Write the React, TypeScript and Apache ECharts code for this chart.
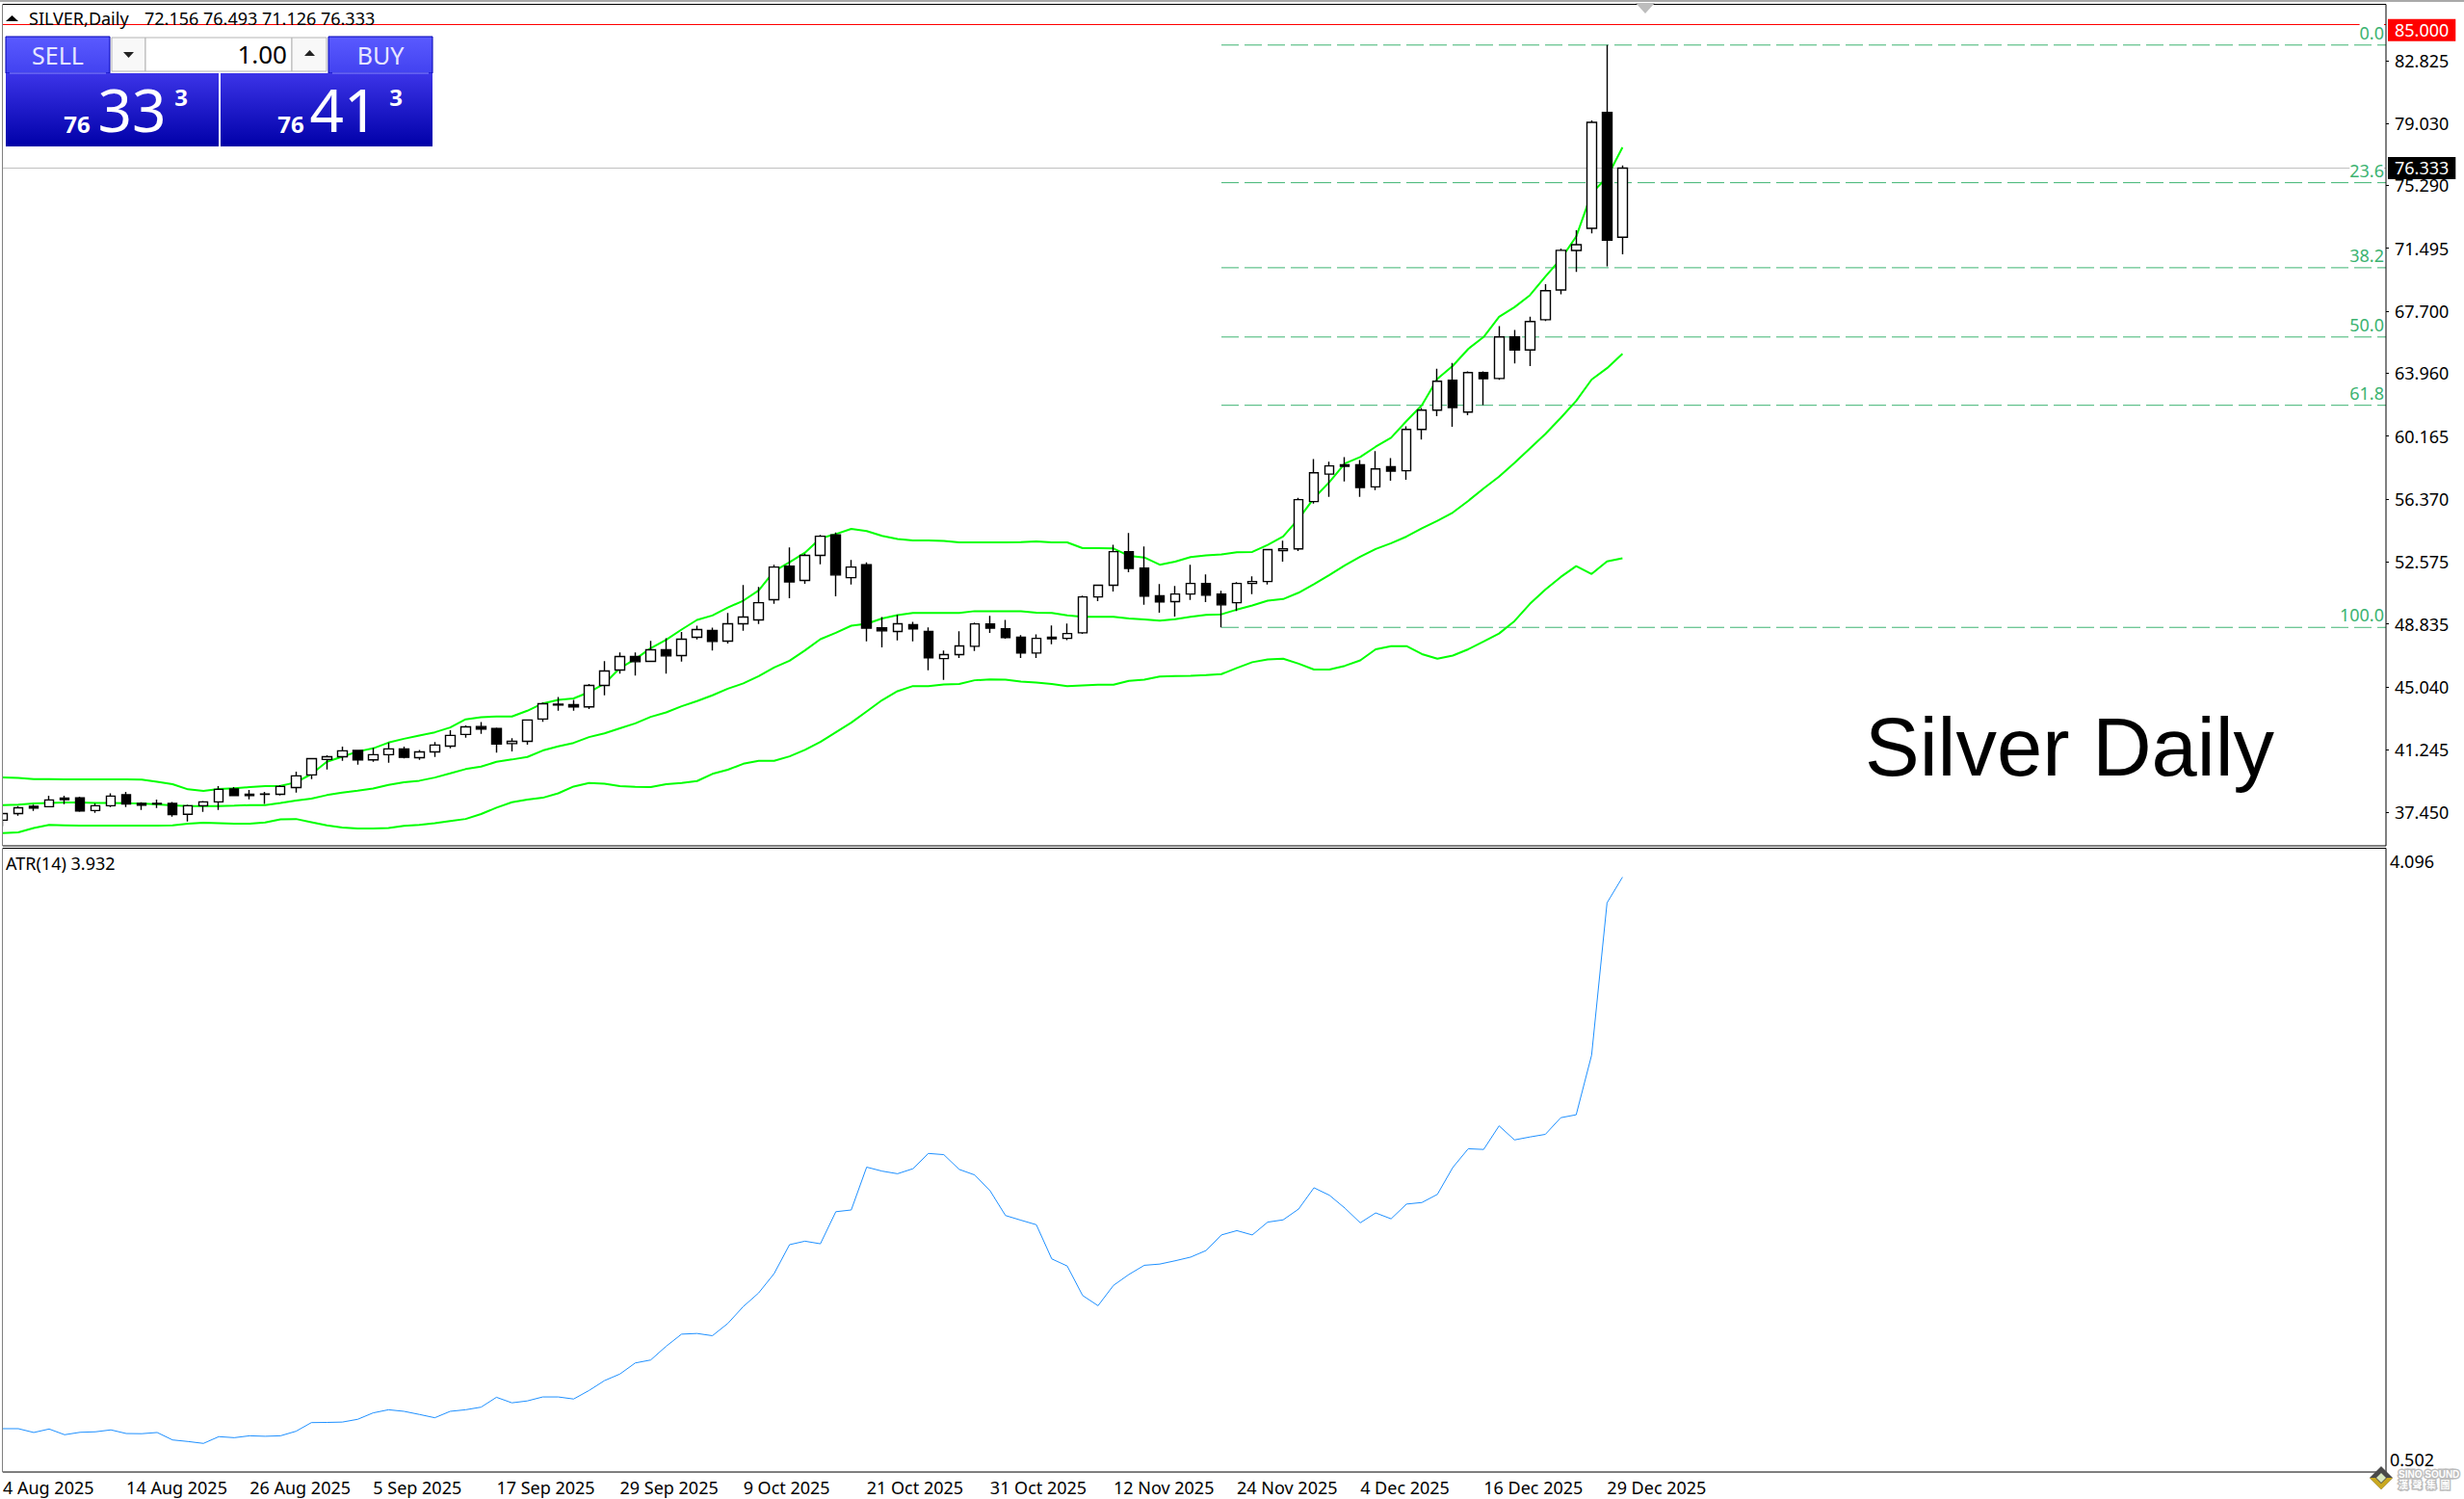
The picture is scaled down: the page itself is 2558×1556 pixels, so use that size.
import React, { useEffect, useRef } from 'react';
import * as echarts from 'echarts';

const tickLabels = ['4 Aug 2025', '14 Aug 2025', '26 Aug 2025', '5 Sep 2025', '17 Sep 2025', '29 Sep 2025', '9 Oct 2025', '21 Oct 2025', '31 Oct 2025', '12 Nov 2025', '24 Nov 2025', '4 Dec 2025', '16 Dec 2025', '29 Dec 2025'];

const opens = [36.99, 37.39, 37.82, 37.80, 38.32, 38.34, 37.57, 37.86, 38.52, 38.00, 37.96, 38.00, 37.34, 37.86, 38.09, 38.87, 38.55, 38.54, 38.55, 38.96, 39.72, 40.65, 40.82, 41.19, 40.63, 40.94, 41.29, 40.76, 41.11, 41.46, 42.16, 42.64, 42.52, 41.61, 41.75, 43.09, 43.94, 43.96, 43.82, 45.12, 46.05, 46.86, 46.57, 47.27, 46.92, 48.02, 48.43, 47.79, 48.84, 49.07, 50.29, 52.32, 51.45, 52.96, 54.20, 51.62, 52.40, 48.60, 48.37, 48.78, 48.37, 46.74, 46.98, 47.48, 48.83, 48.54, 48.02, 47.07, 48.02, 47.96, 48.29, 50.46, 51.16, 53.19, 52.20, 50.52, 50.17, 50.63, 51.27, 50.63, 50.11, 51.27, 51.39, 53.25, 53.36, 56.21, 57.87, 58.43, 58.43, 57.10, 58.32, 58.07, 60.56, 61.73, 63.53, 61.61, 63.99, 63.64, 66.14, 65.36, 67.18, 68.98, 71.36, 72.70, 79.69, 72.156];
const closes = [37.39, 37.74, 37.72, 38.21, 38.23, 37.55, 37.86, 38.44, 37.96, 37.90, 38.00, 37.32, 37.86, 38.09, 38.85, 38.48, 38.48, 38.57, 39.02, 39.66, 40.70, 40.82, 41.17, 40.63, 40.94, 41.29, 40.78, 41.11, 41.52, 42.10, 42.62, 42.48, 41.59, 41.75, 43.03, 44.01, 43.98, 43.82, 45.12, 45.99, 46.86, 46.55, 47.27, 46.90, 47.91, 48.49, 47.77, 48.84, 49.24, 50.11, 52.26, 51.37, 52.96, 54.12, 51.78, 52.26, 48.58, 48.41, 48.84, 48.53, 46.78, 46.98, 47.50, 48.83, 48.58, 48.00, 47.07, 47.96, 47.94, 48.25, 50.46, 51.16, 53.19, 52.18, 50.50, 50.15, 50.63, 51.27, 50.56, 49.98, 51.27, 51.39, 53.31, 53.36, 56.33, 57.95, 58.36, 58.34, 57.06, 58.18, 58.05, 60.56, 61.73, 63.47, 61.88, 63.99, 63.62, 66.14, 65.36, 67.07, 68.93, 71.37, 71.71, 79.09, 71.98, 76.333];
const lows = [36.62, 37.26, 37.55, 37.80, 37.96, 37.49, 37.43, 37.78, 37.78, 37.61, 37.72, 37.20, 36.91, 37.49, 37.61, 38.48, 38.25, 37.97, 38.48, 38.65, 39.47, 40.05, 40.57, 40.34, 40.51, 40.45, 40.72, 40.63, 40.80, 41.32, 41.96, 42.20, 41.07, 41.13, 41.54, 42.93, 43.59, 43.59, 43.70, 44.52, 45.83, 45.72, 46.57, 45.83, 46.55, 47.89, 47.23, 47.65, 48.41, 48.82, 50.04, 50.38, 51.25, 52.42, 50.50, 51.20, 47.77, 47.42, 47.83, 47.77, 46.03, 45.45, 46.78, 47.19, 48.29, 47.94, 46.78, 46.78, 47.60, 47.85, 48.23, 50.21, 50.79, 51.95, 49.98, 49.51, 49.28, 50.27, 50.15, 48.62, 49.61, 50.62, 51.20, 52.59, 53.23, 56.09, 56.50, 57.43, 56.50, 56.90, 57.47, 57.53, 59.96, 61.36, 60.72, 61.42, 62.03, 63.56, 64.55, 64.38, 67.11, 68.71, 70.07, 72.39, 70.40, 71.126];
const highs = [37.42, 37.84, 37.92, 38.46, 38.46, 38.40, 38.00, 38.61, 38.69, 38.07, 38.23, 38.09, 37.92, 38.15, 39.04, 38.98, 38.81, 38.69, 39.10, 39.91, 40.70, 40.90, 41.42, 41.19, 41.36, 41.67, 41.42, 41.23, 41.71, 42.41, 42.70, 42.91, 42.58, 41.94, 43.03, 44.09, 44.42, 44.25, 45.20, 46.59, 47.11, 47.11, 47.81, 47.96, 48.35, 48.72, 48.60, 49.49, 51.18, 51.06, 52.40, 53.44, 53.07, 54.20, 54.35, 52.69, 52.55, 49.24, 49.38, 48.95, 48.62, 47.23, 48.39, 48.91, 49.32, 49.07, 48.16, 48.20, 48.74, 48.85, 50.54, 51.16, 53.60, 54.31, 53.50, 51.23, 51.12, 52.40, 51.81, 50.83, 51.35, 51.70, 53.31, 53.85, 56.44, 58.78, 58.61, 58.90, 58.72, 59.25, 58.84, 60.76, 61.86, 64.22, 64.57, 64.07, 64.07, 66.80, 66.57, 67.36, 69.33, 71.48, 72.58, 79.20, 83.75, 76.493];

const bandUpper = [39.56, 39.54, 39.47, 39.47, 39.45, 39.45, 39.45, 39.45, 39.45, 39.43, 39.31, 39.16, 38.85, 38.75, 38.87, 38.92, 38.98, 39.04, 39.06, 39.27, 39.77, 40.51, 40.82, 41.13, 41.32, 41.67, 41.90, 42.10, 42.29, 42.58, 43.07, 43.20, 43.24, 43.24, 43.59, 44.03, 44.25, 44.33, 44.71, 45.22, 46.16, 46.71, 47.36, 47.87, 48.49, 49.07, 49.34, 49.82, 50.23, 50.85, 52.01, 52.55, 53.13, 54.00, 54.25, 54.56, 54.43, 54.14, 53.95, 53.87, 53.87, 53.83, 53.75, 53.75, 53.75, 53.75, 53.77, 53.81, 53.75, 53.75, 53.40, 53.40, 53.38, 52.94, 52.84, 52.40, 52.59, 52.86, 52.96, 53.02, 53.15, 53.17, 53.60, 54.10, 55.17, 56.42, 57.39, 58.51, 58.90, 59.52, 60.06, 61.07, 62.03, 63.62, 64.40, 65.42, 66.14, 67.36, 67.94, 68.66, 69.78, 70.84, 72.20, 74.81, 75.78, 77.58];
const bandMiddle = [37.90, 37.92, 38.00, 38.03, 38.05, 38.05, 38.03, 38.03, 38.01, 38.00, 37.94, 37.88, 37.84, 37.84, 37.84, 37.86, 37.90, 37.90, 38.03, 38.17, 38.29, 38.50, 38.65, 38.77, 38.90, 39.12, 39.27, 39.37, 39.56, 39.81, 40.07, 40.22, 40.51, 40.65, 40.80, 41.19, 41.44, 41.65, 42.00, 42.23, 42.53, 42.83, 43.22, 43.49, 43.86, 44.17, 44.52, 44.92, 45.24, 45.68, 46.20, 46.61, 47.23, 47.91, 48.29, 48.72, 48.84, 49.16, 49.36, 49.49, 49.49, 49.49, 49.49, 49.60, 49.60, 49.60, 49.60, 49.51, 49.49, 49.34, 49.26, 49.26, 49.26, 49.16, 49.10, 49.03, 49.12, 49.26, 49.38, 49.41, 49.69, 49.94, 50.23, 50.33, 50.71, 51.23, 51.78, 52.36, 52.88, 53.35, 53.70, 54.10, 54.60, 55.05, 55.55, 56.25, 57.00, 57.72, 58.55, 59.42, 60.29, 61.26, 62.29, 63.57, 64.26, 65.13];
const bandLower = [36.21, 36.25, 36.52, 36.70, 36.68, 36.66, 36.66, 36.66, 36.66, 36.66, 36.66, 36.68, 36.77, 36.83, 36.80, 36.77, 36.77, 36.85, 37.04, 37.06, 36.87, 36.68, 36.54, 36.48, 36.48, 36.52, 36.64, 36.70, 36.80, 36.93, 37.06, 37.36, 37.74, 38.07, 38.23, 38.34, 38.61, 39.02, 39.23, 39.19, 39.04, 39.00, 38.98, 39.16, 39.23, 39.35, 39.78, 40.03, 40.39, 40.57, 40.57, 40.84, 41.23, 41.71, 42.29, 42.87, 43.55, 44.23, 44.77, 45.08, 45.08, 45.18, 45.20, 45.43, 45.48, 45.47, 45.35, 45.29, 45.20, 45.08, 45.12, 45.16, 45.16, 45.39, 45.47, 45.66, 45.68, 45.70, 45.74, 45.80, 46.17, 46.52, 46.69, 46.73, 46.43, 46.08, 46.08, 46.30, 46.63, 47.30, 47.49, 47.49, 47.01, 46.73, 46.92, 47.30, 47.77, 48.25, 49.00, 50.04, 50.90, 51.66, 52.32, 51.84, 52.60, 52.79];

const atr = [0.752, 0.752, 0.730, 0.750, 0.717, 0.731, 0.734, 0.745, 0.724, 0.723, 0.730, 0.687, 0.678, 0.667, 0.706, 0.700, 0.711, 0.708, 0.711, 0.737, 0.787, 0.788, 0.790, 0.806, 0.843, 0.861, 0.852, 0.834, 0.815, 0.852, 0.861, 0.876, 0.933, 0.901, 0.912, 0.935, 0.935, 0.923, 0.972, 1.029, 1.067, 1.131, 1.148, 1.227, 1.297, 1.301, 1.288, 1.359, 1.456, 1.535, 1.646, 1.813, 1.833, 1.818, 2.003, 2.013, 2.260, 2.237, 2.222, 2.251, 2.339, 2.332, 2.247, 2.215, 2.124, 1.981, 1.954, 1.928, 1.731, 1.690, 1.520, 1.461, 1.578, 1.641, 1.694, 1.701, 1.720, 1.741, 1.779, 1.869, 1.894, 1.869, 1.943, 1.956, 2.018, 2.141, 2.098, 2.024, 1.939, 1.996, 1.962, 2.047, 2.056, 2.103, 2.258, 2.366, 2.362, 2.498, 2.417, 2.434, 2.449, 2.545, 2.562, 2.906, 3.784, 3.932];

const priceTicks = [82.825, 79.03, 75.29, 71.495, 67.7, 63.96, 60.165, 56.37, 52.575, 48.835, 45.04, 41.245, 37.45];
const fibValues = [83.754, 75.45, 70.32, 66.14, 62.02, 48.62];
const fibLabels = ['0.0', '23.6', '38.2', '50.0', '61.8', '100.0'];
const fibStart = 79;

const BAR_SLOTS = 155;
const SHIFT = 5; // chart div hangs off the left so the first candle is cut by the frame
const FONT = '"Noto Sans", sans-serif';
const TXT = 18;

const categories = Array.from({ length: BAR_SLOTS }, (_, i) => (i % 8 === 0 && tickLabels[i / 8]) || '');
const candles = opens.map((o, i) => [o, closes[i], lows[i], highs[i]]);

const text = (str: string, x: number, y: number, font: string, fill: string, align = 'left', extra = {}) => ({
    type: 'text',
    x,
    y,
    z: 110,
    silent: true,
    style: { text: str, font, fill, align, verticalAlign: 'middle', textAlign: align, textVerticalAlign: 'middle', ...extra }
});

const box = (x: number, y: number, width: number, height: number, fill: any, stroke?: string, z = 105) => ({
    type: 'rect',
    z,
    silent: true,
    shape: { x, y, width, height },
    style: { fill, stroke: stroke || 'none', lineWidth: 1 }
});

const tri = (points: number[][], fill: string) => ({
    type: 'polygon',
    z: 110,
    silent: true,
    shape: { points },
    style: { fill }
});

const grad = (a: string, b: string) => new echarts.graphic.LinearGradient(0, 0, 0, 1, [{ offset: 0, color: a }, { offset: 1, color: b }]);

const halo = { stroke: '#bdbdbd', lineWidth: 3 };

const overlays = () => [
    // window strip, frames
    box(-SHIFT, 2, SHIFT + 2.5, 1554, '#fff'),
    box(0, 0, 2558, 2, '#a9a9a9'),
    box(2.5, 4.5, 2474.5, 873.5, 'none', '#000', 104),
    box(2.5, 880.5, 2474.5, 647.5, 'none', '#000', 104),
    tri([[1698, 3], [1718, 3], [1708, 14]], '#bdbdbd'),
    // header
    tri([[6, 22], [19, 22], [12.5, 16]], '#000'),
    text('SILVER,Daily', 30, 19, `${TXT}px ${FONT}`, '#000'),
    text('72.156 76.493 71.126 76.333', 150, 19, `${TXT}px ${FONT}`, '#000'),
    text('ATR(14) 3.932', 6, 896, `${TXT}px ${FONT}`, '#000'),
    // one click panel
    box(6, 38, 108, 38, grad('#5a5aff', '#4242f0'), '#0000b4'),
    box(341, 38, 108, 38, grad('#5a5aff', '#4242f0'), '#0000b4'),
    box(6, 76, 221, 76, grad('#3c34e8', '#0000a8')),
    box(229, 76, 220, 76, grad('#3c34e8', '#0000a8')),
    box(10, 75.5, 100, 1, '#8c8cff'),
    box(345, 75.5, 100, 1, '#8c8cff'),
    box(116, 39, 35, 35, '#f8f8f8', '#b4b4b4'),
    box(151, 39, 152, 35, '#fff', '#b4b4b4'),
    box(303, 39, 36, 35, '#f8f8f8', '#b4b4b4'),
    tri([[128, 54], [139, 54], [133.5, 60]], '#222'),
    tri([[316, 58], [327, 58], [321.5, 52]], '#222'),
    text('1.00', 298, 56, `26px ${FONT}`, '#000', 'right'),
    text('SELL', 60, 57, `25px ${FONT}`, '#e6e6ff', 'center'),
    text('BUY', 395, 57, `25px ${FONT}`, '#e6e6ff', 'center'),
    text('76', 80, 128, `bold 24px ${FONT}`, '#fff', 'center'),
    text('33', 137, 113, `62px ${FONT}`, '#fff', 'center'),
    text('3', 188, 100, `bold 24px ${FONT}`, '#fff', 'center'),
    text('76', 302, 128, `bold 24px ${FONT}`, '#fff', 'center'),
    text('41', 357, 113, `62px ${FONT}`, '#fff', 'center'),
    text('3', 411, 100, `bold 24px ${FONT}`, '#fff', 'center'),
    // chart note
    text('Silver Daily', 1936, 775, '85px "Liberation Sans", Arial, sans-serif', '#000'),
    // watermark
    tri([[2472, 1522], [2484, 1534], [2472, 1546], [2460, 1534]], '#4a4a4a'),
    tri([[2472, 1546], [2484, 1534], [2478, 1534], [2472, 1540], [2466, 1534], [2460, 1534]], '#c9a820'),
    tri([[2472, 1529], [2477, 1534], [2472, 1539], [2467, 1534]], '#d8e8c0'),
    text('SINO SOUND', 2490, 1530, 'bold 10px "Liberation Sans", sans-serif', '#fff', 'left', halo),
    text('漢  聲  集  團', 2490, 1540, 'bold 10px "Noto Sans CJK TC"', '#fff', 'left', halo)
];

const bandSeries = (name: string, data: number[], extra = {}) => ({
    name,
    type: 'line',
    xAxisIndex: 0,
    yAxisIndex: 0,
    data,
    z: 3,
    symbol: 'none',
    silent: true,
    lineStyle: { color: '#00ff00', width: 2 },
    ...extra
});

const renderFib = (params: any, api: any) => {
    const start = api.coord([fibStart, api.value(1)]);
    const right = params.coordSys.x + params.coordSys.width;
    return {
        type: 'group',
        children: [
            {
                type: 'line',
                shape: { x1: start[0], y1: start[1], x2: right, y2: start[1] },
                style: { stroke: '#3cb371', lineWidth: 1, lineDash: [18, 6] }
            },
            {
                type: 'text',
                style: {
                    text: fibLabels[params.dataIndex],
                    x: right - 2,
                    y: start[1] - 1,
                    align: 'right',
                    verticalAlign: 'bottom',
                    fill: '#3cb371',
                    font: `${TXT}px ${FONT}`,
                    backgroundColor: '#fff',
                    padding: [0, 0, 3, 0]
                }
            }
        ]
    };
};

export default function App() {
    const chartRef = useRef<HTMLDivElement>(null);

    useEffect(() => {
        if (!chartRef.current) return;
        document.body.style.margin = '0';

        const chart = echarts.init(chartRef.current, null, { renderer: 'svg' });

        const priceTag = (value: number, bg: string, offsetY: number) => ({
            yAxis: value,
            label: {
                show: true,
                position: 'end',
                distance: 2,
                formatter: value.toFixed(3),
                color: '#fff',
                backgroundColor: bg,
                fontFamily: FONT,
                fontSize: TXT,
                padding: [0, 7],
                lineHeight: 23,
                offset: [0, offsetY]
            }
        });

        const option = {
            animation: false,
            backgroundColor: '#fff',
            grid: [
                { left: 0, right: 81, top: 4, height: 874 },
                { left: 0, right: 81, top: 881, height: 647 }
            ],
            xAxis: [
                { type: 'category', gridIndex: 0, data: categories, show: false },
                {
                    type: 'category',
                    gridIndex: 1,
                    data: categories,
                    axisLine: { show: false },
                    axisTick: {
                        alignWithLabel: true,
                        length: 4,
                        lineStyle: { color: '#000' },
                        interval: (_: number, v: string) => v !== ''
                    },
                    axisLabel: {
                        interval: 7,
                        align: 'left',
                        color: '#000',
                        fontFamily: FONT,
                        fontSize: TXT,
                        margin: 7
                    }
                }
            ],
            yAxis: [
                {
                    type: 'value',
                    gridIndex: 0,
                    position: 'right',
                    min: 35.44,
                    max: 86.24,
                    splitLine: { show: false },
                    axisLine: { show: false },
                    axisTick: { show: true, length: 3, customValues: priceTicks, lineStyle: { color: '#000' } },
                    axisLabel: {
                        customValues: priceTicks,
                        formatter: (v: number) => v.toFixed(3),
                        color: '#000',
                        fontFamily: FONT,
                        fontSize: TXT,
                        margin: 9
                    }
                },
                {
                    type: 'value',
                    gridIndex: 1,
                    position: 'right',
                    min: 0.502,
                    max: 4.096,
                    splitLine: { show: false },
                    axisLine: { show: false },
                    axisTick: { show: false },
                    axisLabel: {
                        customValues: [0.502, 4.096],
                        formatter: (v: number) => v.toFixed(3),
                        verticalAlignMinLabel: 'bottom',
                        verticalAlignMaxLabel: 'top',
                        lineHeight: 26,
                        color: '#000',
                        fontFamily: FONT,
                        fontSize: TXT,
                        margin: 4
                    }
                }
            ],
            series: [
                bandSeries('Upper', bandUpper, {
                    markLine: {
                        z: 1,
                        silent: true,
                        symbol: 'none',
                        precision: 3,
                        lineStyle: { type: 'solid', width: 1 },
                        data: [
                            { ...priceTag(85, '#ff0000', 6), lineStyle: { color: '#ff0000' } },
                            { ...priceTag(76.333, '#000000', 0), lineStyle: { color: '#c0c0c0' } }
                        ]
                    }
                }),
                bandSeries('Middle', bandMiddle),
                bandSeries('Lower', bandLower),
                {
                    name: 'Fibo',
                    type: 'custom',
                    xAxisIndex: 0,
                    yAxisIndex: 0,
                    z: 2,
                    silent: true,
                    clip: false,
                    data: fibValues.map(v => [fibStart, v]),
                    encode: { x: 0, y: 1 },
                    renderItem: renderFib
                },
                {
                    name: 'SILVER',
                    type: 'candlestick',
                    xAxisIndex: 0,
                    yAxisIndex: 0,
                    z: 6,
                    barWidth: 10,
                    data: candles,
                    silent: true,
                    itemStyle: {
                        color: '#ffffff',
                        color0: '#000000',
                        borderColor: '#000000',
                        borderColor0: '#000000',
                        borderWidth: 1.4
                    }
                },
                {
                    name: 'ATR(14)',
                    type: 'line',
                    xAxisIndex: 1,
                    yAxisIndex: 1,
                    data: atr,
                    symbol: 'none',
                    silent: true,
                    lineStyle: { color: '#1e90ff', width: 1 }
                }
            ],
            graphic: { elements: [{ type: 'group', x: SHIFT, y: 0, children: overlays() }] }
        };

        chart.setOption(option as any);

        return () => {
            chart.dispose();
        };
    }, []);

    return <div ref={chartRef} style={{ position: 'absolute', left: -SHIFT, top: 0, width: 2558 + SHIFT, height: 1556 }} />;
}
